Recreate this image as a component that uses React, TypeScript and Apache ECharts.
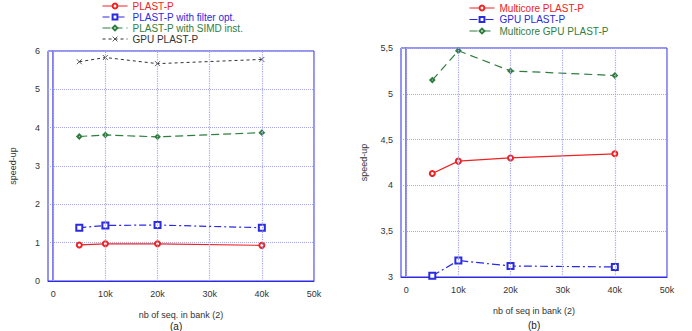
import React, { useEffect, useRef } from "react";
import * as echarts from "echarts";

const xValues = [5000, 10000, 20000, 40000];
const xGridTicks = [0, 10000, 20000, 30000, 40000, 50000];

// chart (a)
const plastP = [0.94, 0.97, 0.97, 0.93];
const plastPFilter = [1.39, 1.45, 1.46, 1.39];
const plastPSimd = [3.77, 3.81, 3.76, 3.87];
const gpuPlastPA = [5.72, 5.83, 5.67, 5.78];

// chart (b)
const multicorePlastP = [4.13, 4.265, 4.3, 4.345];
const gpuPlastPB = [3.014, 3.18, 3.12, 3.11];
const multicoreGpuPlastP = [5.15, 5.47, 5.25, 5.2];

const FONT = "Liberation Sans, Arial, sans-serif";
const RED = "#ee2222";
const BLUE = "#2a2ae0";
const GREEN = "#2f7d3f";
const GRAY = "#333333";
const GRIDC = "#a6a6f2";
const FRAME = "#2a2ae0";

const pairs = (ys: number[]) => xValues.map((x, i) => [x, ys[i]]);
const xFmt = (v: number) =>
  v >= 0 && v % 10000 === 0 ? (v === 0 ? "0" : v / 1000 + "k") : "";

function baseOption(o: {
  grid: any;
  yMin: number;
  yMax: number;
  yInt: number;
  yNameGap: number;
  xName: string;
  legendLeft: number;
  legendTop: number;
  legendGap: number;
  series: any[];
  sub: string;
  subX: number;
  subY: number;
}) {
  return {
    animation: false,
    textStyle: { fontFamily: FONT },
    grid: { ...o.grid, show: true, borderColor: FRAME, borderWidth: 1, backgroundColor: "transparent" },
    legend: {
      orient: "vertical",
      left: o.legendLeft,
      top: o.legendTop,
      itemWidth: 25,
      itemHeight: 6,
      itemGap: o.legendGap,
      padding: 0,
      selectedMode: false,
      itemStyle: { borderWidth: 0.8 },
      lineStyle: { width: 1 },
      data: o.series.map((s) => ({ name: s.name, textStyle: { color: s.lineStyle.color } })),
      textStyle: { fontSize: 10, lineHeight: 10, fontFamily: FONT, padding: [0, 0, 0, 0] },
    },
    xAxis: {
      type: "value",
      min: -1000,
      max: 50000,
      interval: 1000,
      name: o.xName,
      nameLocation: "middle",
      nameGap: 29,
      nameTextStyle: { fontSize: 9, color: "#333", fontFamily: FONT },
      axisLine: { show: true, lineStyle: { color: FRAME, width: 1 } },
      axisTick: { show: false },
      splitLine: { show: false },
      axisLabel: { formatter: xFmt, fontSize: 9, color: "#333", margin: 8, fontFamily: FONT },
    },
    yAxis: {
      type: "value",
      min: o.yMin,
      max: o.yMax,
      interval: o.yInt,
      name: "speed-up",
      nameLocation: "middle",
      nameRotate: 90,
      nameGap: o.yNameGap,
      nameTextStyle: { fontSize: 9, color: "#333", fontFamily: FONT },
      axisLine: { show: true, lineStyle: { color: "#8080ee", width: 2 } },
      axisTick: { show: false },
      splitLine: { show: true, lineStyle: { color: GRIDC, type: "dotted", width: 1 } },
      axisLabel: {
        fontSize: 9,
        color: "#333",
        margin: 8,
        fontFamily: FONT,
        formatter: (v: number) => String(v).replace(".", ","),
      },
    },
    graphic: [
      {
        type: "text",
        left: o.subX,
        top: o.subY,
        style: { text: o.sub, fontSize: 10, fill: "#222", fontFamily: FONT },
      },
    ],
    series: o.series.map((s, i) =>
      i === 0
        ? {
            ...s,
            markLine: {
              silent: true,
              symbol: ["none", "none"],
              label: { show: false },
              lineStyle: { color: GRIDC, type: "dotted", width: 1.2 },
              data: xGridTicks.map((v) => ({ xAxis: v })),
            },
          }
        : s
    ),
  };
}

const mk = (name: string, ys: number[], color: string, type: any, symbol: string, size: number, width = 1.2) => ({
  name,
  type: "line",
  data: pairs(ys),
  symbol,
  symbolSize: size,
  showSymbol: true,
  lineStyle: { color, width, type },
  itemStyle: { color, borderColor: color, borderWidth: 0.8 },
  z: 3,
});

const crossPath = "path://M0,0L10,10M0,10L10,0";

function Chart({ option }: { option: any }) {
  const ref = useRef<HTMLDivElement>(null);
  useEffect(() => {
    const chart = echarts.init(ref.current!, undefined, { renderer: "svg" });
    chart.setOption(option);
    return () => chart.dispose();
  }, [option]);
  return <div ref={ref} style={{ width: 346, height: 331 }} />;
}

const optionA = baseOption({
  grid: { left: 48, right: 32, top: 51, bottom: 50 },
  yMin: 0,
  yMax: 6,
  yInt: 1,
  yNameGap: 31,
  xName: "nb of seq. in bank (2)",
  legendLeft: 102,
  legendTop: 1,
  legendGap: 1,
  sub: "(a)",
  subX: 170,
  subY: 321,
  series: [
    mk("PLAST-P", plastP, RED, "solid", "emptyCircle", 5),
    mk("PLAST-P with filter opt.", plastPFilter, BLUE, [7, 3, 2, 3], "emptyRect", 6),
    mk("PLAST-P with SIMD inst.", plastPSimd, GREEN, [8, 4], "emptyDiamond", 4),
    mk("GPU PLAST-P", gpuPlastPA, GRAY, [3, 3], crossPath, 5, 1),
  ],
});

const optionB = baseOption({
  grid: { left: 55, right: 25, top: 48, bottom: 54 },
  yMin: 3,
  yMax: 5.5,
  yInt: 0.5,
  yNameGap: 33,
  xName: "nb of seq in bank (2)",
  legendLeft: 123,
  legendTop: 3,
  legendGap: 1.5,
  sub: "(b)",
  subX: 182,
  subY: 320,
  series: [
    mk("Multicore PLAST-P", multicorePlastP, RED, "solid", "emptyCircle", 5),
    mk("GPU PLAST-P", gpuPlastPB, BLUE, [8, 3, 2, 3], "emptyRect", 6),
    mk("Multicore GPU PLAST-P", multicoreGpuPlastP, GREEN, [8, 5], "emptyDiamond", 4),
  ],
});

export default function App() {
  return (
    <div
      style={{
        position: "absolute",
        left: 0,
        top: 0,
        width: 692,
        height: 331,
        background: "#fff",
        display: "flex",
      }}
    >
      <Chart option={optionA} />
      <Chart option={optionB} />
    </div>
  );
}
